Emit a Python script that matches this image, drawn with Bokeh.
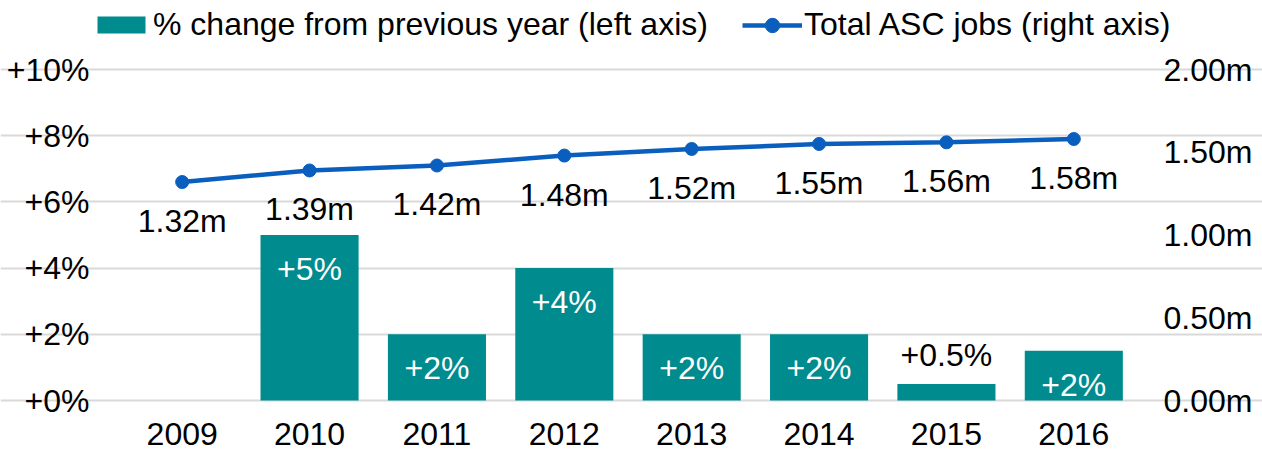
from bokeh.plotting import figure
from bokeh.models import (ColumnDataSource, Range1d, LinearAxis, FixedTicker, Legend, LegendItem)
from bokeh.core.properties import value
from bokeh.embed import file_html
from bokeh.resources import INLINE

# ---- data ----
years = ["2009", "2010", "2011", "2012", "2013", "2014", "2015", "2016"]
pct_change = [None, 5.0, 2.0, 4.0, 2.0, 2.0, 0.5, 1.5]
pct_labels = ["", "+5%", "+2%", "+4%", "+2%", "+2%", "+0.5%", "+2%"]
jobs_m = [1.32, 1.39, 1.42, 1.48, 1.52, 1.55, 1.56, 1.58]
jobs_labels = ["1.32m", "1.39m", "1.42m", "1.48m", "1.52m", "1.55m", "1.56m", "1.58m"]
left_ticks = [0, 2, 4, 6, 8, 10]
left_tick_labels = ["+0%", "+2%", "+4%", "+6%", "+8%", "+10%"]
right_ticks = [0, 0.5, 1.0, 1.5, 2.0]
right_tick_labels = ["0.00m", "0.50m", "1.00m", "1.50m", "2.00m"]
bar_name = "% change from previous year (left axis)"
line_name = "Total ASC jobs (right axis)"

FONT = "Liberation Sans"
FS = "32px"
TEAL = "#008B8F"
BLUE = "#0A5EBE"
GRID = "#D9D9D9"

xpos = list(range(len(years)))          # category slots 0..7
x_lo, x_hi = -0.5, len(years) - 0.5      # edges of the category area

# The frame fills the whole canvas so the legend (clipped to the frame) can sit above the plot.
p = figure(x_range=Range1d(-1.4264, 8.4814), y_range=Range1d(-1.571, 12.085),
           width=1262, height=452,
           min_border_left=0, min_border_right=0, min_border_top=0, min_border_bottom=0,
           output_backend="svg", toolbar_location=None)
p.extra_y_ranges = {"jobs": Range1d(-0.3142, 2.417)}
p.outline_line_color = None
p.background_fill_color = "white"
p.border_fill_color = "white"

# bars
bar_src = ColumnDataSource(dict(x=xpos, y=[v if v is not None else float("nan") for v in pct_change]))
bars = p.vbar(x="x", top="y", bottom=0, width=0.77, source=bar_src, fill_color=TEAL, line_color=None)

inside = [i for i, v in enumerate(pct_change) if v is not None and v >= 1]
above = [i for i, v in enumerate(pct_change) if v is not None and v < 1]
in_src = ColumnDataSource(dict(x=[xpos[i] for i in inside], y=[pct_change[i] for i in inside],
                               t=[pct_labels[i] for i in inside]))
ab_src = ColumnDataSource(dict(x=[xpos[i] for i in above], y=[pct_change[i] for i in above],
                               t=[pct_labels[i] for i in above]))
p.text(x="x", y="y", text="t", source=in_src, text_font=value(FONT), text_font_size=FS,
       text_color="white", text_align="center", text_baseline="middle", y_offset=34)
p.text(x="x", y="y", text="t", source=ab_src, text_font=value(FONT), text_font_size=FS,
       text_color="black", text_align="center", text_baseline="middle", y_offset=-29)

# line
line_src = ColumnDataSource(dict(x=xpos, y=jobs_m, t=jobs_labels))
ln = p.line(x="x", y="y", source=line_src, line_color=BLUE, line_width=4.5, y_range_name="jobs")
mk = p.scatter(x="x", y="y", source=line_src, size=13, fill_color=BLUE, line_color=BLUE,
               y_range_name="jobs")
p.text(x="x", y="y", text="t", source=line_src, y_range_name="jobs", text_font=value(FONT),
       text_font_size=FS, text_color="black", text_align="center", text_baseline="middle",
       y_offset=39)

# axes
def style_axis(ax):
    ax.axis_line_color = None
    ax.major_tick_line_color = None
    ax.minor_tick_line_color = None
    ax.major_tick_out = 0
    ax.major_tick_in = 0
    ax.major_label_text_font = FONT
    ax.major_label_text_font_size = FS
    ax.major_label_text_color = "black"

xa = p.xaxis[0]
style_axis(xa)
xa.ticker = FixedTicker(ticks=xpos)
xa.major_label_overrides = {i: y for i, y in zip(xpos, years)}
xa.fixed_location = 0
xa.major_label_standoff = 22

la = p.yaxis[0]
style_axis(la)
la.ticker = FixedTicker(ticks=left_ticks)
la.major_label_overrides = {t: s for t, s in zip(left_ticks, left_tick_labels)}
la.fixed_location = x_lo
la.major_label_standoff = 29

ra = LinearAxis(y_range_name="jobs", ticker=FixedTicker(ticks=right_ticks))
style_axis(ra)
ra.major_label_overrides = {t: s for t, s in zip(right_ticks, right_tick_labels)}
ra.fixed_location = x_hi
ra.major_label_standoff = 26
p.add_layout(ra, "right")

p.xgrid.grid_line_color = None
p.ygrid.grid_line_color = GRID
p.ygrid.grid_line_width = 2
p.ygrid.ticker = FixedTicker(ticks=left_ticks)
p.ygrid.bounds = (x_lo, x_hi)

legend_style = dict(orientation="horizontal", glyph_width=60, label_standoff=2, padding=0,
                    margin=0, border_line_color=None, background_fill_alpha=0,
                    label_text_font=FONT, label_text_font_size=FS, label_text_color="black")
leg_bar = Legend(items=[LegendItem(label=bar_name, renderers=[bars])],
                 location=(91, 409), glyph_height=21, **legend_style)
leg_line = Legend(items=[LegendItem(label=line_name, renderers=[ln, mk])],
                  location=(742, 409), glyph_height=36, **legend_style)
p.add_layout(leg_bar)
p.add_layout(leg_line)

open("out.html", "w").write(file_html(p, INLINE))
